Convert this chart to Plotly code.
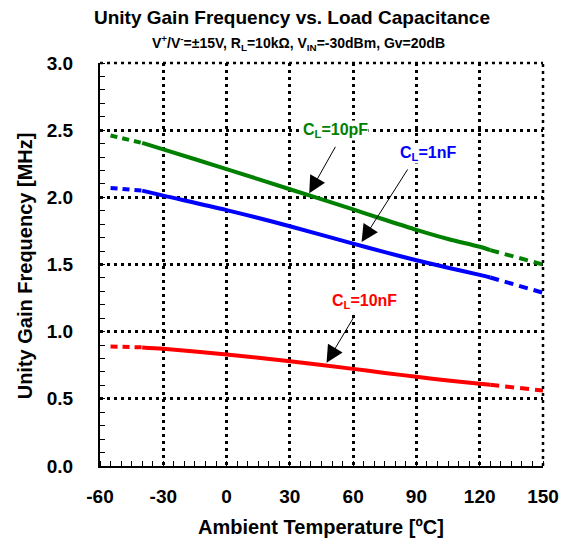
import plotly.graph_objects as go

temps = [-55, -40, -30, 0, 30, 60, 75, 90, 105, 120, 125, 150]
cl_10pf = [2.46, 2.405, 2.357, 2.21, 2.06, 1.91, 1.833, 1.758, 1.69, 1.632, 1.607, 1.50]
cl_1nf = [2.07, 2.05, 2.013, 1.905, 1.785, 1.655, 1.592, 1.532, 1.476, 1.423, 1.403, 1.29]
cl_10nf = [0.89, 0.883, 0.873, 0.83, 0.78, 0.723, 0.693, 0.664, 0.637, 0.613, 0.604, 0.562]

series = [
    ("C<sub>L</sub>=10pF", cl_10pf, "#008000"),
    ("C<sub>L</sub>=1nF", cl_1nf, "#0000FF"),
    ("C<sub>L</sub>=10nF", cl_10nf, "#FF0000"),
]

x_ticks = [-60, -30, 0, 30, 60, 90, 120, 150]
y_ticks = [0.0, 0.5, 1.0, 1.5, 2.0, 2.5, 3.0]
y_tick_text = ["0.0", "0.5", "1.0", "1.5", "2.0", "2.5", "3.0"]

FONT = "Liberation Sans, Arial, sans-serif"

# page geometry (page has an 8px body margin)
PX0, PX1, PY_TOP, PY_BOT = 100, 543, 62.7, 465.7
PW, PH = PX1 - PX0, PY_BOT - PY_TOP


def px(xp):
    return (xp - PX0) / PW


def py(yp):
    return (PY_BOT - yp) / PH


GRID_DASH = "3px,4px"

fig = go.Figure()
n = len(temps)
for name, vals, color in series:
    fig.add_trace(go.Scatter(x=temps[0:2], y=vals[0:2], mode="lines",
                             line=dict(color=color, width=4, dash="7px,5px"),
                             showlegend=False, hoverinfo="skip"))
    fig.add_trace(go.Scatter(x=temps[1:n - 1], y=vals[1:n - 1], mode="lines",
                             line=dict(color=color, width=4, shape="spline", smoothing=0.8),
                             name=name, showlegend=False))
    fig.add_trace(go.Scatter(x=temps[n - 2:n], y=vals[n - 2:n], mode="lines",
                             line=dict(color=color, width=4, dash="9px,6px"),
                             showlegend=False, hoverinfo="skip"))

labels = [
    ("C<sub>L</sub>=10pF", "#008000", 51.6, 2.495, 39.2, 2.03, 27, -48),
    ("C<sub>L</sub>=1nF", "#0000FF", 95.4, 2.33, 64.0, 1.668, 47, -74),
    ("C<sub>L</sub>=10nF", "#FF0000", 65.3, 1.228, 47.4, 0.768, 28, -47),
]
for txt, color, tx, ty, hx, hy, ax, ay in labels:
    fig.add_annotation(x=hx, y=hy, text="", showarrow=True, ax=ax, ay=ay,
                       arrowhead=2, arrowsize=3.4, arrowwidth=1, arrowcolor="black",
                       standoff=0, startstandoff=0)
    fig.add_annotation(x=tx, y=ty, text="<b>" + txt + "</b>", showarrow=False,
                       bgcolor="white", borderpad=0,
                       font=dict(family=FONT, size=16, color=color))

fig.add_shape(type="line", xref="paper", yref="paper", x0=0, x1=1, y0=1, y1=1,
              line=dict(color="black", width=2.5, dash=GRID_DASH))
fig.add_shape(type="line", xref="paper", yref="paper", x0=1, x1=1, y0=0, y1=1,
              line=dict(color="black", width=2.5, dash=GRID_DASH))

# titles
fig.add_annotation(text="<b>Unity Gain Frequency vs. Load Capacitance</b>", xref="paper", yref="paper",
                   x=px(291.5), y=py(17), xanchor="center", yanchor="middle", showarrow=False,
                   font=dict(family=FONT, size=19))
fig.add_annotation(text="<b>V<sup>+</sup>/V<sup>-</sup>=±15V, R<sub>L</sub>=10kΩ, V<sub>IN</sub>=-30dBm, Gv=20dB</b>",
                   xref="paper", yref="paper", x=px(298.5), y=py(43), xanchor="center", yanchor="middle",
                   showarrow=False, font=dict(family=FONT, size=14))
fig.add_annotation(text="<b>Ambient Temperature [ºC]</b>", xref="paper", yref="paper",
                   x=px(321), y=py(527), xanchor="center", yanchor="middle", showarrow=False,
                   font=dict(family=FONT, size=20))
fig.add_annotation(text="<b>Unity Gain Frequency [MHz]</b>", xref="paper", yref="paper",
                   x=px(25), y=py(266), xanchor="center", yanchor="middle", showarrow=False,
                   textangle=-90, font=dict(family=FONT, size=20))

fig.update_layout(
    width=562, height=532,
    margin=dict(l=92, r=27, t=55, b=74),
    paper_bgcolor="white", plot_bgcolor="white",
    font=dict(family=FONT, color="black"),
)

fig.update_xaxes(
    range=[-60, 150], tickvals=x_ticks, ticktext=["<b>%d</b>" % v for v in x_ticks],
    showline=True, linecolor="black", linewidth=2,
    showgrid=True, gridcolor="black", gridwidth=2.5, griddash=GRID_DASH,
    ticks="", zeroline=False, ticklabelstandoff=12,
    tickfont=dict(family=FONT, size=19),
    minor=dict(dtick=5, tick0=-60, ticks="inside", ticklen=5, tickcolor="black", tickwidth=1, showgrid=False),
)
fig.update_yaxes(
    range=[0, 3.0], tickvals=y_ticks, ticktext=["<b>%s</b>" % t for t in y_tick_text],
    showline=True, linecolor="black", linewidth=2,
    showgrid=True, gridcolor="black", gridwidth=2.5, griddash=GRID_DASH,
    ticks="", zeroline=False, ticklabelstandoff=21,
    tickfont=dict(family=FONT, size=19),
    minor=dict(dtick=0.1, tick0=0, ticks="inside", ticklen=5, tickcolor="black", tickwidth=1, showgrid=False),
)

fig.write_html("out.html")
